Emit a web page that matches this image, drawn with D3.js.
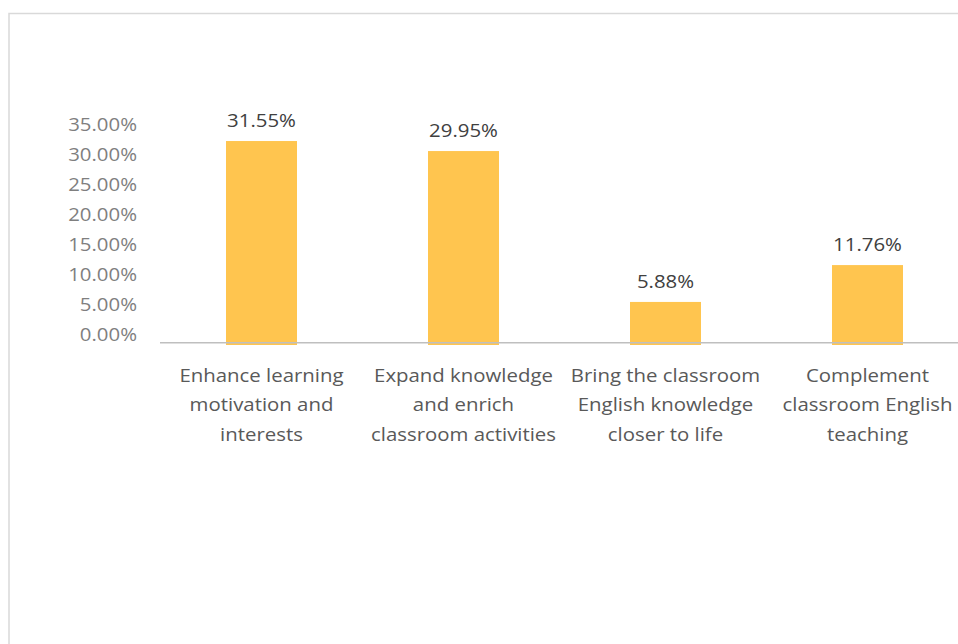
<!DOCTYPE html>
<html>
<head>
<meta charset="utf-8">
<script src="https://cdn.jsdelivr.net/npm/d3@7"></script>
<style>
  html, body { margin: 0; padding: 0; background: #fff; }
  svg { display: block; }
  text { font-family: "Open Sans", "Noto Sans", sans-serif; }
</style>
</head>
<body>
<svg id="chart" width="958" height="644"></svg>
<script>
// Purposes of using the materials, share of respondents (%)
const categories = [
  ["Enhance learning", "motivation and", "interests"],
  ["Expand knowledge", "and enrich", "classroom activities"],
  ["Bring the classroom", "English knowledge", "closer to life"],
  ["Complement", "classroom English", "teaching"]
];
const values = [31.55, 29.95, 5.88, 11.76];
const tickValues = [0, 5, 10, 15, 20, 25, 30, 35];

const FONT = 18;
const STRETCH = "scale(1.133,1)";   // the whole chart is drawn horizontally widened
const svg = d3.select("#chart");

// chart frame
svg.append("rect")
  .attr("x", 9).attr("y", 13.5)
  .attr("width", 1000).attr("height", 700)
  .attr("fill", "none")
  .attr("stroke", "#d9d9d9")
  .attr("stroke-width", 1.5);

const keys = categories.map((c, i) => i);
const x = d3.scaleBand()
  .domain(keys)
  .range([160.5, 968.5])
  .paddingInner(0.6485)
  .paddingOuter(0.6485 / 2);

// bar value scale; the category axis sits slightly below the zero level
const baseY = 342.7;
const y = d3.scaleLinear().domain([0, 35]).range([338.8, 119.4]);
// tick label placement scale
const yTicks = d3.scaleLinear().domain([0, 35]).range([335, 125]);

// bars
svg.append("g").selectAll("rect")
  .data(values)
  .join("rect")
  .attr("x", (d, i) => x(i))
  .attr("width", x.bandwidth())
  .attr("y", d => y(d))
  .attr("height", d => baseY + 2.3 - y(d))
  .attr("fill", "#ffc54f");

// category axis line
svg.append("line")
  .attr("x1", 160).attr("x2", 968)
  .attr("y1", baseY).attr("y2", baseY)
  .attr("stroke", "#bfbfbf")
  .attr("stroke-width", 1.5);

// value axis labels
const yAxis = d3.axisLeft(yTicks)
  .tickValues(tickValues)
  .tickSize(0)
  .tickPadding(0)
  .tickFormat(d => d.toFixed(2) + "%");
const gy = svg.append("g")
  .attr("transform", "translate(137,0)")
  .call(yAxis);
gy.select(".domain").remove();
gy.selectAll("text")
  .attr("fill", "#7f7f7f")
  .attr("font-size", FONT)
  .attr("font-family", "'Open Sans', 'Noto Sans', sans-serif")
  .attr("transform", STRETCH);

// data labels
svg.append("g").selectAll("text")
  .data(values)
  .join("text")
  .attr("transform", (d, i) =>
    `translate(${x(i) + x.bandwidth() / 2},${y(d) - 14}) ${STRETCH}`)
  .attr("text-anchor", "middle")
  .attr("fill", "#404040")
  .attr("font-size", FONT)
  .text(d => d.toFixed(2) + "%");

// category labels
const cat = svg.append("g").selectAll("text")
  .data(categories)
  .join("text")
  .attr("text-anchor", "middle")
  .attr("fill", "#595959")
  .attr("font-size", FONT)
  .attr("transform", (d, i) => `translate(${x(i) + x.bandwidth() / 2},0) ${STRETCH}`);
cat.selectAll("tspan")
  .data(d => d)
  .join("tspan")
  .attr("x", 0)
  .attr("y", (d, j) => 382 + j * 29.3)
  .text(d => d);
</script>
</body>
</html>
